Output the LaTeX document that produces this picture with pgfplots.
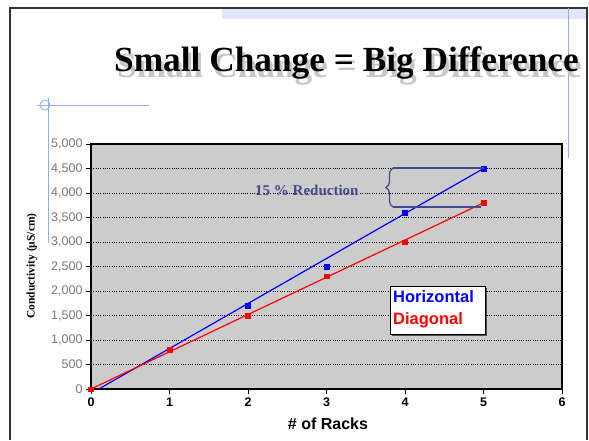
\documentclass[border=0pt]{standalone}
\usepackage{pgfplots}
\pgfplotsset{compat=1.18}
\usepackage{fontspec}
\setmainfont{Liberation Serif}
\newfontfamily\arial{Liberation Sans}
\usetikzlibrary{decorations.pathreplacing}
\definecolor{plotgray}{RGB}{204,204,204}
\definecolor{annot}{RGB}{65,75,135}
\definecolor{deco}{RGB}{150,170,250}
\definecolor{band}{RGB}{225,230,252}
\definecolor{tickgray}{RGB}{120,120,120}
\begin{document}
\begin{tikzpicture}[x=1pt,y=1pt]
\useasboundingbox (0,0) rectangle (589,440);
\fill[white] (0,0) rectangle (589,440);
% frame and decorations
\fill[band] (222,421) rectangle (586,431);
\draw[black!80,line width=1.5pt] (10,0)--(10,432)--(587,432)--(587,0);
\draw[deco,line width=0.8pt] (568,432)--(568,282);
\draw[deco,line width=0.8pt] (37,335)--(149,335);
\draw[deco,line width=0.8pt] (48,342)--(48,197);
\draw[deco,line width=0.8pt] (45,335) circle (5);
% title
\node[anchor=base west,inner sep=0,text=black!22] at (117,362) {\fontsize{35.3}{40}\selectfont\bfseries Small Change = Big Difference};
\node[anchor=base west,inner sep=0] at (114,368) {\fontsize{35.3}{40}\selectfont\bfseries Small Change = Big Difference};
\begin{axis}[
  at={(91pt,51pt)}, anchor=south west,
  scale only axis, width=471pt, height=245pt,
  xmin=0, xmax=6, ymin=0, ymax=5000,
  xtick={0,1,2,3,4,5,6}, ytick={0,500,...,5000},
  xtick pos=left, ytick pos=left,
  tick align=outside, major tick length=5pt,
  axis background/.style={fill=plotgray},
  ymajorgrids,
  major grid style={black, dash pattern=on 1pt off 1.3pt, line width=0.7pt},
  axis line style={black, line width=1.2pt},
  tick style={black, line width=0.8pt},
  /pgf/number format/.cd, 1000 sep={,}, assume math mode=true,
  /pgfplots/.cd,
  yticklabel style={font=\arial\fontsize{12.5}{14}\selectfont, text=tickgray},
  xticklabel style={font=\arial\bfseries\fontsize{12.5}{14}\selectfont, text=black},
  clip=false,
]
\addplot[blue, line width=1.2pt] coordinates {(0.1,0) (5,4500)};
\addplot[red, line width=1.2pt] coordinates {(0,0) (5,3800)};
\addplot[only marks, mark=square*, mark size=2.3pt, blue] coordinates {
  (0,0) (1,800) (2,1700) (3,2500) (4,3600) (5,4500)};
\addplot[only marks, mark=square*, mark size=2.3pt, red] coordinates {
  (0,0) (1,800) (2,1500) (3,2300) (4,3000) (5,3800)};
\end{axis}
% axis labels
\node[anchor=base,inner sep=0] at (328,11) {\arial\bfseries\fontsize{16}{18}\selectfont \# of Racks};
\node[rotate=90,inner sep=0] at (32,174) {\bfseries\fontsize{11.5}{13}\selectfont Conductivity (µS/cm)};
% legend
\fill[black!70] (392,104) rectangle (487,152);
\draw[black,fill=white,line width=0.8pt] (390,106) rectangle (485,154);
\node[anchor=base west,inner sep=0,text=blue] at (393,138) {\arial\bfseries\fontsize{16.5}{18}\selectfont Horizontal};
\node[anchor=base west,inner sep=0,text=red] at (393,116) {\arial\bfseries\fontsize{16.5}{18}\selectfont Diagonal};
% annotation
\node[anchor=base west,inner sep=0,text=white!80!black] at (258,240) {\bfseries\fontsize{15}{17}\selectfont 15 \% Reduction};
\node[anchor=base west,inner sep=0,text=annot] at (255,245) {\bfseries\fontsize{15}{17}\selectfont 15 \% Reduction};
\draw[annot,line width=1.2pt,decorate,decoration={brace,amplitude=7pt}] (393,233)--(393,272);
\draw[annot,line width=1.2pt] (393,272)--(484,272);
\draw[annot,line width=1.2pt] (393,233)--(481,233);
\end{tikzpicture}
\end{document}
